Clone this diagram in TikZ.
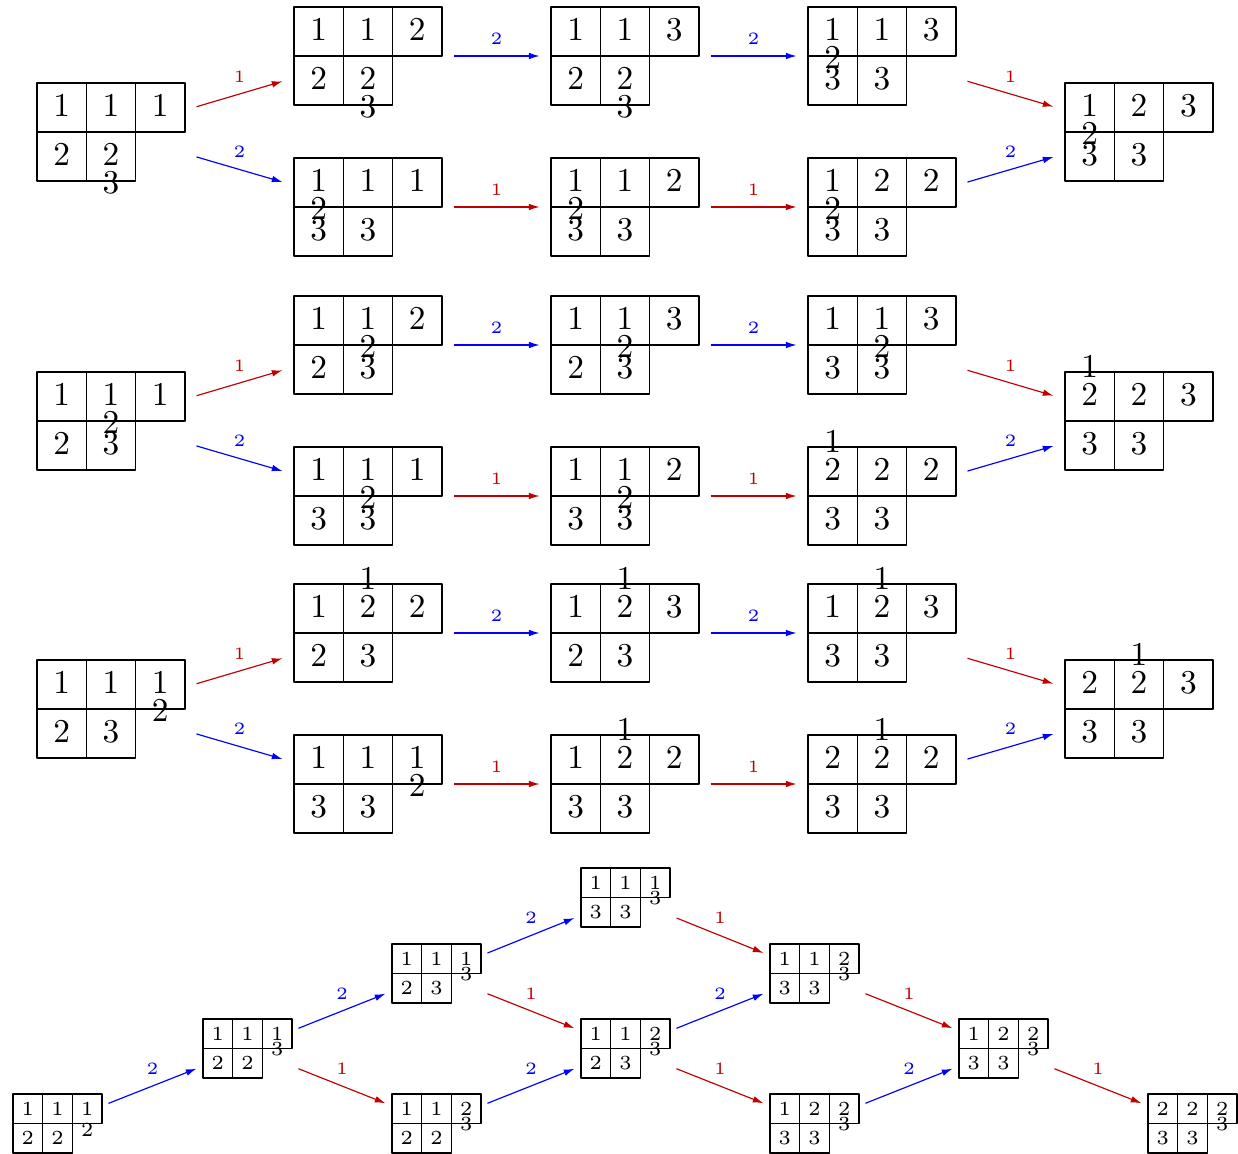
\documentclass[tikz,border=0pt]{standalone}
\usetikzlibrary{arrows.meta}

\definecolor{fred}{RGB}{192,0,0}
\definecolor{fblue}{RGB}{0,0,255}

% gap between the two entries of a set-valued box
\newlength{\svgap}
\newcommand{\svdown}[3][\svgap]{#2\llap{\raisebox{-#1}{#3}}}
\newcommand{\svup}[3][\svgap]{#3\llap{\raisebox{#1}{#2}}}

% tableau of shape (3,2): name, centre, row 1, row 2
\newcommand{\bigtab}[7]{%
  \setlength{\svgap}{8.4pt}%
  \node[bigslot] (#1) at (#2) {};
  \begin{scope}[shift={(#2)}]
    \draw (-74,-49) rectangle (74,0) (-74,0) rectangle (24.67,49)
          (-24.67,-49) -- (-24.67,49) (24.67,-49) -- (24.67,0);
    \node[bigdigit] at (-49.33,-15.8) {#3};
    \node[bigdigit] at (0,-15.8) {#4};
    \node[bigdigit] at (49.33,-15.8) {#5};
    \node[bigdigit] at (-49.33,33.2) {#6};
    \node[bigdigit] at (0,33.2) {#7};
  \end{scope}}
\newcommand{\smalltab}[7]{%
  \setlength{\svgap}{4.65pt}%
  \node[smallslot] (#1) at (#2) {};
  \begin{scope}[shift={(#2)}]
    \draw (-44.5,-29.5) rectangle (44.5,0) (-44.5,0) rectangle (14.83,29.5)
          (-14.83,-29.5) -- (-14.83,29.5) (14.83,-29.5) -- (14.83,0);
    \node[smalldigit] at (-29.67,-8.25) {#3};
    \node[smalldigit] at (0,-8.25) {#4};
    \node[smalldigit] at (29.67,-8.25) {#5};
    \node[smalldigit] at (-29.67,21.25) {#6};
    \node[smalldigit] at (0,21.25) {#7};
  \end{scope}}

\begin{document}
\begin{tikzpicture}[x=0.3pt,y=-0.3pt,line join=round,>={Latex[length=3.2pt,width=2pt]},
  bigslot/.style={minimum width=51.3pt,minimum height=36pt,inner sep=0pt,outer sep=0pt},
  smallslot/.style={minimum width=30.6pt,minimum height=18pt,inner sep=0pt,outer sep=0pt},
  bigdigit/.style={anchor=base,inner sep=0pt,font=\fontsize{10}{12}\selectfont},
  smalldigit/.style={anchor=base,inner sep=0pt,font=\fontsize{6}{7}\selectfont},
  opone/.style={->,line width=0.35pt,color=fred},
  optwo/.style={->,line width=0.35pt,color=fblue},
  lbl/.style={midway,above=3.3pt,inner sep=0pt,font=\fontsize{5.2}{6}\selectfont}]
  \useasboundingbox (0,0) rectangle (1238,1154);

  % first family
  \bigtab{L1}{111,132}{1}{1}{1}{2}{\svdown{2}{3}}
  \bigtab{A11}{368,56}{1}{1}{2}{2}{\svdown{2}{3}}
  \bigtab{A12}{625,56}{1}{1}{3}{2}{\svdown{2}{3}}
  \bigtab{A13}{882,56}{\svdown{1}{2}}{1}{3}{3}{3}
  \bigtab{B11}{368,207}{\svdown{1}{2}}{1}{1}{3}{3}
  \bigtab{B12}{625,207}{\svdown{1}{2}}{1}{2}{3}{3}
  \bigtab{B13}{882,207}{\svdown{1}{2}}{2}{2}{3}{3}
  \bigtab{R1}{1139,132}{\svdown{1}{2}}{2}{3}{3}{3}

  % second family
  \bigtab{L2}{111,421}{1}{\svdown{1}{2}}{1}{2}{3}
  \bigtab{A21}{368,345}{1}{\svdown{1}{2}}{2}{2}{3}
  \bigtab{A22}{625,345}{1}{\svdown{1}{2}}{3}{2}{3}
  \bigtab{A23}{882,345}{1}{\svdown{1}{2}}{3}{3}{3}
  \bigtab{B21}{368,496}{1}{\svdown{1}{2}}{1}{3}{3}
  \bigtab{B22}{625,496}{1}{\svdown{1}{2}}{2}{3}{3}
  \bigtab{B23}{882,496}{\svup{1}{2}}{2}{2}{3}{3}
  \bigtab{R2}{1139,421}{\svup{1}{2}}{2}{3}{3}{3}

  % third family
  \bigtab{L3}{111,709}{1}{1}{\svdown{1}{2}}{2}{3}
  \bigtab{A31}{368,633}{1}{\svup{1}{2}}{2}{2}{3}
  \bigtab{A32}{625,633}{1}{\svup{1}{2}}{3}{2}{3}
  \bigtab{A33}{882,633}{1}{\svup{1}{2}}{3}{3}{3}
  \bigtab{B31}{368,784}{1}{1}{\svdown{1}{2}}{3}{3}
  \bigtab{B32}{625,784}{1}{\svup{1}{2}}{2}{3}{3}
  \bigtab{B33}{882,784}{2}{\svup{1}{2}}{2}{3}{3}
  \bigtab{R3}{1139,709}{2}{\svup{1}{2}}{3}{3}{3}

  \foreach \g in {1,2,3} {
    \draw[opone] (L\g) -- node[lbl] {1} (A\g1);
    \draw[optwo] (L\g) -- node[lbl] {2} (B\g1);
    \draw[optwo] (A\g1) -- node[lbl] {2} (A\g2);
    \draw[optwo] (A\g2) -- node[lbl] {2} (A\g3);
    \draw[opone] (A\g3) -- node[lbl] {1} (R\g);
    \draw[opone] (B\g1) -- node[lbl] {1} (B\g2);
    \draw[opone] (B\g2) -- node[lbl] {1} (B\g3);
    \draw[optwo] (B\g3) -- node[lbl] {2} (R\g);
  }

  % the small crystal
  \smalltab{t0}{57.5,1123.5}{1}{1}{\svdown[6.3pt]{1}{2}}{2}{2}
  \smalltab{t1}{247.5,1048.5}{1}{1}{\svdown{1}{3}}{2}{2}
  \smalltab{t2a}{436.5,973.5}{1}{1}{\svdown{1}{3}}{2}{3}
  \smalltab{t2b}{436.5,1123.5}{1}{1}{\svdown{2}{3}}{2}{2}
  \smalltab{t3a}{625.5,897.5}{1}{1}{\svdown{1}{3}}{3}{3}
  \smalltab{t3b}{625.5,1048.5}{1}{1}{\svdown{2}{3}}{2}{3}
  \smalltab{t4a}{814.5,973.5}{1}{1}{\svdown{2}{3}}{3}{3}
  \smalltab{t4b}{814.5,1123.5}{1}{2}{\svdown{2}{3}}{3}{3}
  \smalltab{t5}{1003.5,1048.5}{1}{2}{\svdown{2}{3}}{3}{3}
  \smalltab{t6}{1192.5,1123.5}{2}{2}{\svdown{2}{3}}{3}{3}

  \draw[optwo] (t0) -- node[lbl] {2} (t1);
  \draw[optwo] (t1) -- node[lbl] {2} (t2a);
  \draw[opone] (t1) -- node[lbl] {1} (t2b);
  \draw[optwo] (t2a) -- node[lbl] {2} (t3a);
  \draw[opone] (t2a) -- node[lbl] {1} (t3b);
  \draw[optwo] (t2b) -- node[lbl] {2} (t3b);
  \draw[opone] (t3a) -- node[lbl] {1} (t4a);
  \draw[optwo] (t3b) -- node[lbl] {2} (t4a);
  \draw[opone] (t3b) -- node[lbl] {1} (t4b);
  \draw[opone] (t4a) -- node[lbl] {1} (t5);
  \draw[optwo] (t4b) -- node[lbl] {2} (t5);
  \draw[opone] (t5) -- node[lbl] {1} (t6);
\end{tikzpicture}
\end{document}
